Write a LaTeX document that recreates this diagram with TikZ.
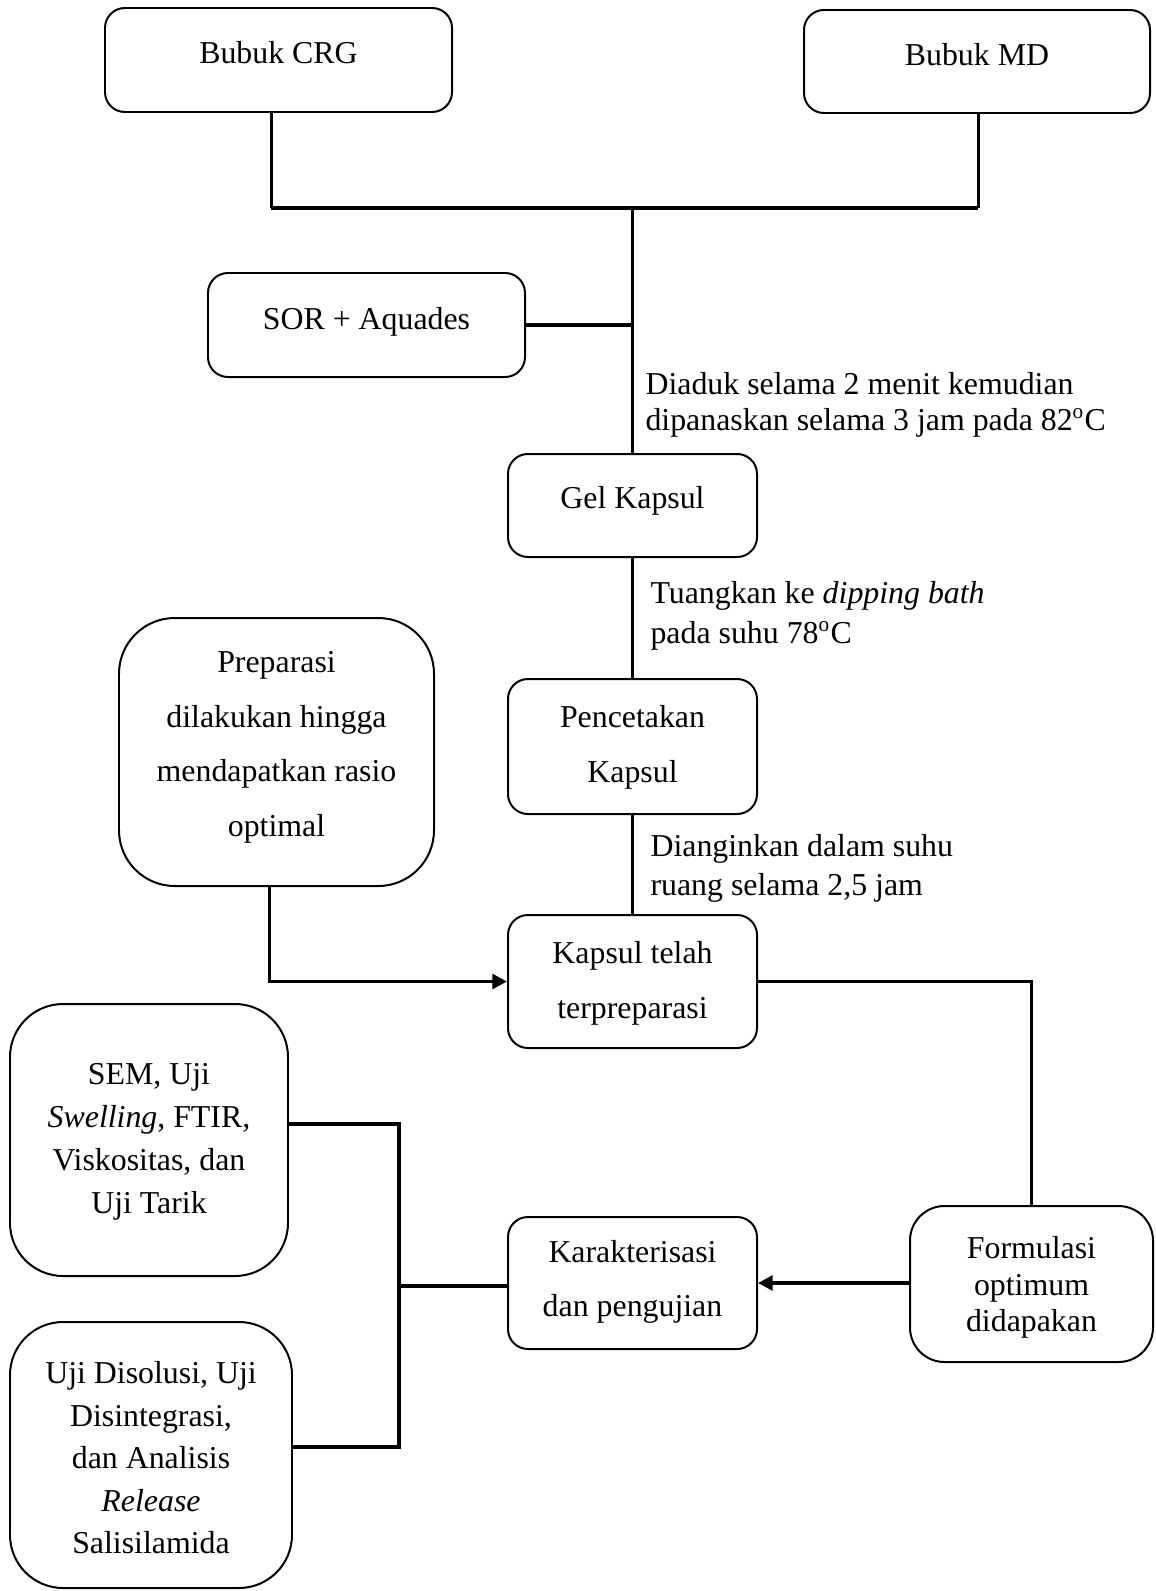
\documentclass[tikz,border=0pt]{standalone}
\usepackage{fontspec}
\setmainfont{Liberation Serif}
\usetikzlibrary{arrows.meta,calc}
\newcommand\U{0.3768pt}
\newcommand\bt[3]{\raisebox{#1}[\height][\depth]{\fontsize{12}{#2}\selectfont\begin{tabular}{@{}c@{}}#3\end{tabular}}}
\newcommand\lt[2]{\fontsize{12}{#1}\selectfont\begin{tabular}{@{}l@{}}#2\end{tabular}}
\begin{document}
\begin{tikzpicture}[x=\U, y=-\U,
  box/.style={draw, line width=0.75pt, rounded corners=7.5pt, inner sep=0pt},
  conn/.style={line width=1.45pt},
  thinconn/.style={line width=1.13pt},
  arr/.style={conn, -{Triangle[length=5.5pt,width=5.5pt]}},
  lbl/.style={inner sep=0pt, anchor=west}]
\useasboundingbox (0,0) rectangle (1155,1591);
% boxes
\node[box, minimum width=347*\U, minimum height=104*\U] (crg) at (278.5,60) {\bt{1.4pt}{14pt}{Bubuk CRG}};
\node[box, minimum width=346*\U, minimum height=103*\U] (md) at (977,61.5) {\bt{1.4pt}{14pt}{Bubuk MD}};
\node[box, minimum width=317*\U, minimum height=104*\U] (sor) at (366.5,325) {\bt{1.1pt}{14pt}{SOR + Aquades}};
\node[box, minimum width=249*\U, minimum height=103*\U] (gel) at (632.5,505.5) {\bt{1.5pt}{14pt}{Gel Kapsul}};
\node[box, minimum width=249*\U, minimum height=135*\U] (cetak) at (632.5,746.5) {\bt{0.9pt}{20.7pt}{Pencetakan\\Kapsul}};
\node[box, minimum width=249*\U, minimum height=133*\U] (kapsul) at (632.5,981.5) {\bt{0.4pt}{20.7pt}{Kapsul telah\\terpreparasi}};
\node[box, rounded corners=21pt, minimum width=315*\U, minimum height=268*\U] (prep) at (276.5,752) {\bt{3.2pt}{20.7pt}{Preparasi\\dilakukan hingga\\mendapatkan rasio\\optimal}};
\node[box, rounded corners=13pt, minimum width=243*\U, minimum height=156*\U] (formul) at (1031.5,1284) {\bt{-1.5pt}{13.75pt}{Formulasi\\optimum\\didapakan}};
\node[box, minimum width=249*\U, minimum height=132*\U] (karak) at (632.5,1283) {\bt{1.7pt}{20.7pt}{Karakterisasi\\dan pengujian}};
\node[box, rounded corners=20pt, minimum width=278*\U, minimum height=272*\U] (sem) at (149,1140) {\bt{-0.3pt}{16.2pt}{SEM, Uji\\\textit{Swelling}, FTIR,\\Viskositas, dan\\Uji Tarik}};
\node[box, rounded corners=20pt, minimum width=282*\U, minimum height=266*\U] (diso) at (151,1455) {\bt{-1.9pt}{16pt}{Uji Disolusi, Uji\\Disintegrasi,\\dan Analisis\\\textit{Release}\\Salisilamida}};
% labels
\node[lbl] (l1) at (645,405.5) {\lt{13.4pt}{Diaduk selama 2 menit kemudian\\dipanaskan selama 3 jam pada 82\textsuperscript{o}C}};
\node[lbl] (l2) at (650,615.5) {\lt{15pt}{Tuangkan ke \textit{dipping bath}\\pada suhu 78\textsuperscript{o}C}};
\node[lbl] (l3) at (650,868.5) {\lt{14.7pt}{Dianginkan dalam suhu\\ruang selama 2,5 jam}};
% junctions
\coordinate (jl) at (271,208);
\coordinate (jr) at (978,208);
\coordinate (jm) at (632.5,208);
\coordinate (br) at (399,1286);
% connectors
\draw[thinconn] (crg.south -| jl) -- (jl);
\draw[thinconn] (md.south -| jr) -- (jr);
\draw[line width=1.6pt] (jl) -- (jr);
\draw[conn] (jm) -- (gel.north);
\draw[conn] (sor.east) -- (sor.east -| jm);
\draw[conn] (gel.south) -- (cetak.north);
\draw[conn] (cetak.south) -- (kapsul.north);
\draw[arr] ([xshift=-7*\U]prep.south) |- (kapsul.west);
\draw[conn] (kapsul.east) -| (formul.north);
\draw[arr] (formul.west |- karak.east) -- (karak.east);
\draw[conn] ([yshift=16*\U]sem.east) -| (br) |- ([yshift=8*\U]diso.east);
\draw[conn] (br) -- (br -| karak.west);
\end{tikzpicture}
\end{document}
